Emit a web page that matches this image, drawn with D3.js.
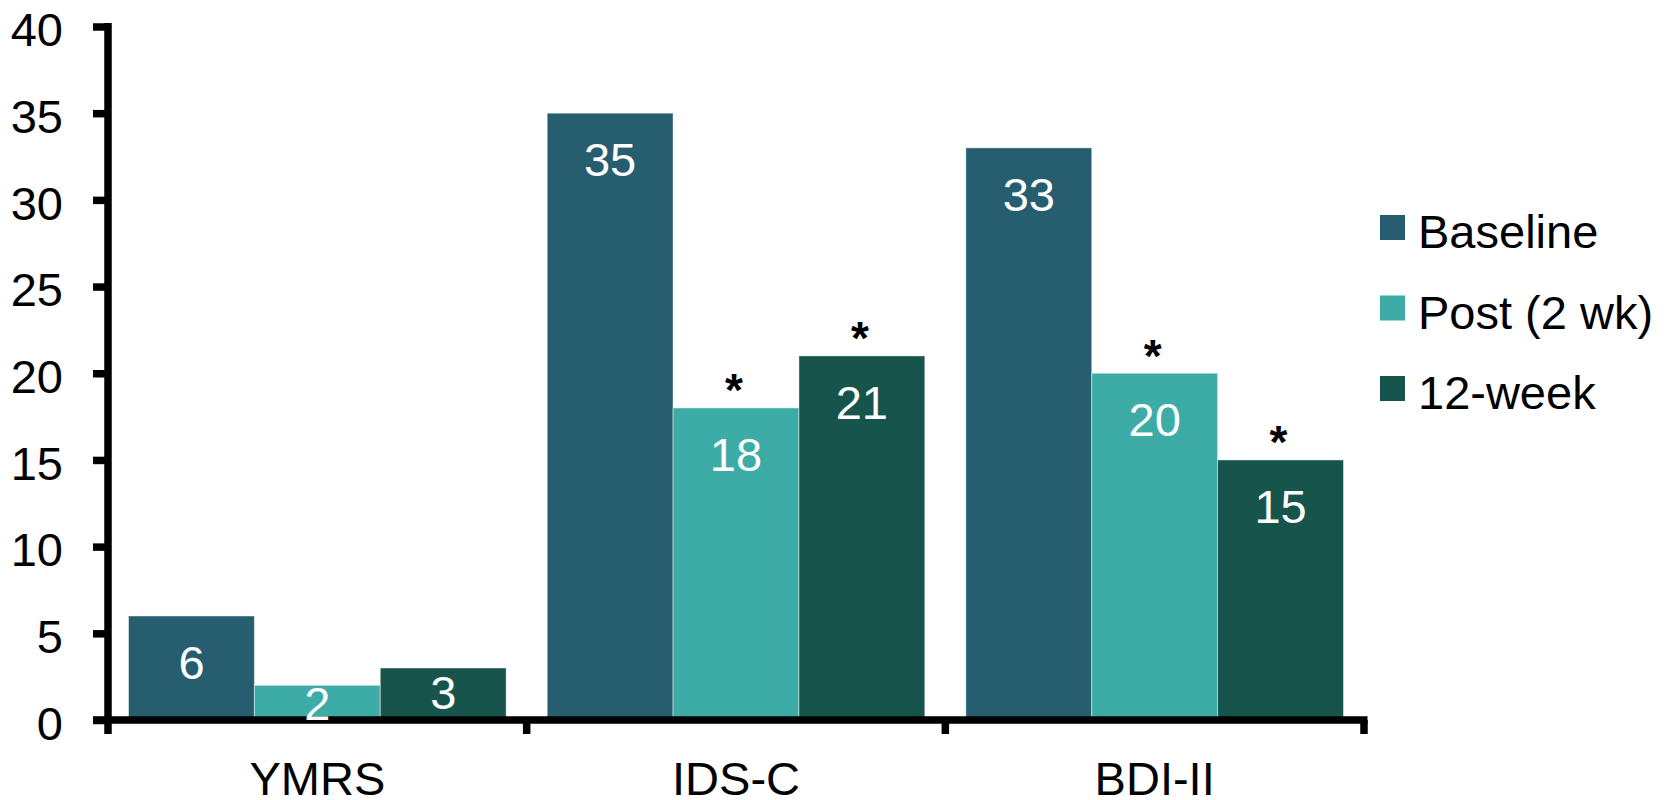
<!DOCTYPE html>
<html>
<head>
<meta charset="utf-8">
<script src="https://cdn.jsdelivr.net/npm/d3@7/dist/d3.min.js"></script>
<style>
  html, body { margin: 0; padding: 0; background: #ffffff; }
  svg { display: block; font-family: "Liberation Sans", Arial, sans-serif; }
</style>
</head>
<body>
<svg id="chart" width="1671" height="800"></svg>
<script>
// Rating scale scores at each assessment point
const categories = ["YMRS", "IDS-C", "BDI-II"];
const seriesNames = ["Baseline", "Post (2 wk)", "12-week"];
const baseline = [6, 35, 33];
const post2wk = [2, 18, 20];
const week12 = [3, 21, 15];
// significance markers (true = asterisk above the bar)
const sigPost = [false, true, true];
const sig12wk = [false, true, true];
const yTicks = [0, 5, 10, 15, 20, 25, 30, 35, 40];
const colors = ["#265E70", "#3DACA6", "#17554C"];

const seriesValues = [baseline, post2wk, week12];
const seriesSig = [[false, false, false], sigPost, sig12wk];

const svg = d3.select("#chart");
const fontSize = 47;
const axisWidth = 7.5;

const x = d3.scaleBand().domain(categories).range([108, 1364]).padding(0);
const xInner = d3.scaleBand().domain(seriesNames).range([0, x.bandwidth()])
  .paddingInner(0).paddingOuter(0.163);
const y = d3.scaleLinear().domain([0, 40]).range([720, 26.5]);

// flattened bar records
const bars = [];
categories.forEach((c, ci) => {
  seriesNames.forEach((s, si) => {
    bars.push({ cat: c, series: s, si, value: seriesValues[si][ci], sig: seriesSig[si][ci] });
  });
});

// bars
svg.append("g").selectAll("rect").data(bars).join("rect")
  .attr("x", d => x(d.cat) + xInner(d.series))
  .attr("y", d => y(d.value))
  .attr("width", xInner.bandwidth())
  .attr("height", d => y(0) - y(d.value))
  .attr("fill", d => colors[d.si])
  .attr("stroke", "rgba(255,255,255,0.45)")
  .attr("stroke-width", 1);

// significance asterisks
svg.append("g").selectAll("text").data(bars.filter(d => d.sig)).join("text")
  .attr("x", d => x(d.cat) + xInner(d.series) + xInner.bandwidth() / 2 - 2)
  .attr("y", d => y(d.value) - 21 + 0.42 * 46)
  .attr("text-anchor", "middle")
  .attr("fill", "#000000")
  .attr("font-size", 46)
  .attr("font-weight", "bold")
  .text("*");

// y axis
const yAxis = svg.append("g")
  .attr("transform", `translate(${x.range()[0]},0)`)
  .call(d3.axisLeft(y).tickValues(yTicks).tickSize(15).tickSizeOuter(0).tickFormat(d3.format("d")));
yAxis.select(".domain").remove();
yAxis.selectAll(".tick line").attr("stroke", "#000").attr("stroke-width", axisWidth);
yAxis.selectAll(".tick text")
  .attr("x", -45).attr("dy", null).attr("y", 19.3)
  .attr("font-size", fontSize).attr("fill", "#000")
  .attr("font-family", "Liberation Sans, Arial, sans-serif");
svg.append("line")
  .attr("x1", x.range()[0]).attr("x2", x.range()[0])
  .attr("y1", y(40) - 3.5).attr("y2", y(0))
  .attr("stroke", "#000").attr("stroke-width", axisWidth);

// x axis: baseline, boundary ticks and category labels
svg.append("line")
  .attr("x1", x.range()[0] - 15).attr("x2", x.range()[1] + 3.5)
  .attr("y1", y(0)).attr("y2", y(0))
  .attr("stroke", "#000").attr("stroke-width", axisWidth);
const boundaries = categories.map(c => x(c)).concat([x.range()[1]]);
svg.append("g").selectAll("line").data(boundaries).join("line")
  .attr("x1", d => d).attr("x2", d => d)
  .attr("y1", y(0)).attr("y2", y(0) + 14)
  .attr("stroke", "#000").attr("stroke-width", axisWidth);
const xAxis = svg.append("g")
  .attr("transform", `translate(0,${y(0)})`)
  .call(d3.axisBottom(x).tickSize(0));
xAxis.select(".domain").remove();
xAxis.selectAll(".tick text")
  .attr("dy", null).attr("y", 75)
  .attr("font-size", fontSize).attr("fill", "#000")
  .attr("font-family", "Liberation Sans, Arial, sans-serif");

// value labels inside the bars (drawn above the axis line)
const labelH = 40;
svg.append("g").selectAll("text").data(bars).join("text")
  .attr("x", d => x(d.cat) + xInner(d.series) + xInner.bandwidth() / 2)
  .attr("y", d => {
    const top = y(d.value), h = y(0) - top;
    if (h < labelH) return top + h / 2 + 17;
    return Math.min(top + 63, y(0) - 11);
  })
  .attr("text-anchor", "middle")
  .attr("fill", "#ffffff")
  .attr("font-size", fontSize)
  .text(d => d.value);

// legend
const legend = svg.append("g").selectAll("g").data(seriesNames).join("g")
  .attr("transform", (d, i) => `translate(1380,${215 + i * 80.5})`);
legend.append("rect").attr("width", 25).attr("height", 25)
  .attr("fill", (d, i) => colors[i]);
legend.append("text").attr("x", 38).attr("y", 33.3)
  .attr("font-size", fontSize).attr("fill", "#000")
  .text(d => d);
</script>
</body>
</html>
